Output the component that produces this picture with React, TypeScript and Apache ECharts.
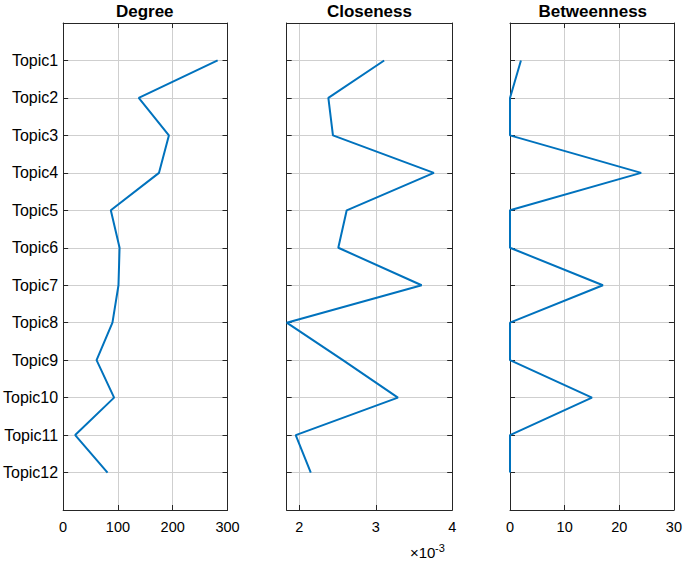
import React, { useEffect, useRef } from "react";
import * as echarts from "echarts";

const categories = ["Topic1","Topic2","Topic3","Topic4","Topic5","Topic6","Topic7","Topic8","Topic9","Topic10","Topic11","Topic12"];
const degree = [282, 138, 193, 175, 87, 103, 101, 90, 61, 93, 22, 81];
const closeness = [3.11e-3, 2.38e-3, 2.44e-3, 3.76e-3, 2.62e-3, 2.51e-3, 3.60e-3, 1.835e-3, 2.57e-3, 3.29e-3, 1.953e-3, 2.15e-3];
const betweenness = [2.0, 0, 0, 24.0, 0, 0, 17.0, 0, 0, 15.0, 0, 0];
const titles = ["Degree", "Closeness", "Betweenness"];
const degreeTicks = { min: 0, max: 300, interval: 100 };
const betweennessTicks = { min: 0, max: 30, interval: 10 };

const FONT = "'Liberation Sans', Arial, Helvetica, sans-serif";
const AXIS_COLOR = "#262626";
const GRID_COLOR = "#cfcfcf";
const LINE_COLOR = "#0072BD";

export default function App() {
  const ref = useRef<HTMLDivElement>(null);
  useEffect(() => {
    if (!ref.current) return;
    const chart = echarts.init(ref.current, null, { renderer: "svg" });
    const lefts = [62, 286.7, 510];
    const width = 165.5;
    const top = 23;
    const height = 487;

    const grids = lefts.map((l) => ({ left: l, top, width, height, containLabel: false }));
    const xAxes: any[] = [];
    const yAxes: any[] = [];
    const series: any[] = [];
    const allData = [degree, closeness, betweenness];

    lefts.forEach((_, i) => {
      let range: any;
      if (i === 0) range = { ...degreeTicks };
      else if (i === 2) range = { ...betweennessTicks };
      else range = { min: "dataMin", max: 0.004, splitNumber: 2 };
      const fmt = (v: number) => {
        if (i === 1) {
          const s = v * 1000;
          if (Math.abs(s - Math.round(s)) > 1e-6) return "";
          return String(Math.round(s));
        }
        return String(v);
      };
      xAxes.push({
        type: "value",
        gridIndex: i,
        position: "bottom",
        ...range,
        axisLine: { show: true, onZero: false, lineStyle: { color: AXIS_COLOR, width: 1 } },
        axisTick: { show: true, inside: true, length: 5, lineStyle: { color: AXIS_COLOR } },
        axisLabel: { show: true, margin: 9, color: "#000", fontFamily: FONT, fontSize: 14.5, formatter: fmt, showMinLabel: true, showMaxLabel: true },
        splitLine: { show: true, lineStyle: { color: GRID_COLOR, width: 1 } },
      });
      xAxes.push({
        type: "value",
        gridIndex: i,
        position: "top",
        ...range,
        axisLine: { show: true, onZero: false, lineStyle: { color: AXIS_COLOR, width: 1 } },
        axisTick: { show: true, inside: true, length: 5, lineStyle: { color: AXIS_COLOR } },
        axisLabel: { show: false },
        splitLine: { show: false },
      });
      yAxes.push({
        type: "value",
        gridIndex: i,
        position: "left",
        inverse: true,
        min: 0,
        max: 13,
        interval: 1,
        axisLine: { show: true, onZero: false, lineStyle: { color: AXIS_COLOR, width: 1 } },
        axisTick: { show: true, inside: true, length: 5, lineStyle: { color: AXIS_COLOR } },
        axisLabel: {
          show: i === 0,
          margin: 5,
          color: "#000",
          fontFamily: FONT,
          fontSize: 16,
          formatter: (v: number) => (v >= 1 && v <= categories.length ? categories[v - 1] : ""),
        },
        splitLine: { show: true, lineStyle: { color: GRID_COLOR, width: 1 } },
      });
      yAxes.push({
        type: "value",
        gridIndex: i,
        position: "right",
        inverse: true,
        min: 0,
        max: 13,
        interval: 1,
        axisLine: { show: true, onZero: false, lineStyle: { color: AXIS_COLOR, width: 1 } },
        axisTick: { show: true, inside: true, length: 5, lineStyle: { color: AXIS_COLOR } },
        axisLabel: { show: false },
        splitLine: { show: false },
      });
      series.push({
        type: "line",
        xAxisIndex: i * 2,
        yAxisIndex: i * 2,
        data: allData[i].map((v, k) => [v, k + 1]),
        showSymbol: false,
        symbol: "none",
        lineStyle: { color: LINE_COLOR, width: 2 },
        clip: false,
      });
    });

    const graphic: any[] = titles.map((t, i) => ({
      type: "text",
      x: lefts[i] + width / 2,
      y: 11,
      style: { text: t, font: `bold 17px ${FONT}`, fill: "#000", textAlign: "center", textVerticalAlign: "middle" },
    }));
    graphic.push({
      type: "text",
      x: 410,
      y: 560,
      style: { text: "×10", font: `15px ${FONT}`, fill: "#000", textAlign: "left", textVerticalAlign: "bottom" },
    });
    graphic.push({
      type: "text",
      x: 435,
      y: 553,
      style: { text: "-3", font: `11px ${FONT}`, fill: "#000", textAlign: "left", textVerticalAlign: "bottom" },
    });

    chart.setOption({
      animation: false,
      backgroundColor: "#fff",
      grid: grids,
      xAxis: xAxes,
      yAxis: yAxes,
      series,
      graphic,
    });
    return () => chart.dispose();
  }, []);
  return <div ref={ref} style={{ position: "fixed", left: 0, top: 0, width: 685, height: 562 }} />;
}
